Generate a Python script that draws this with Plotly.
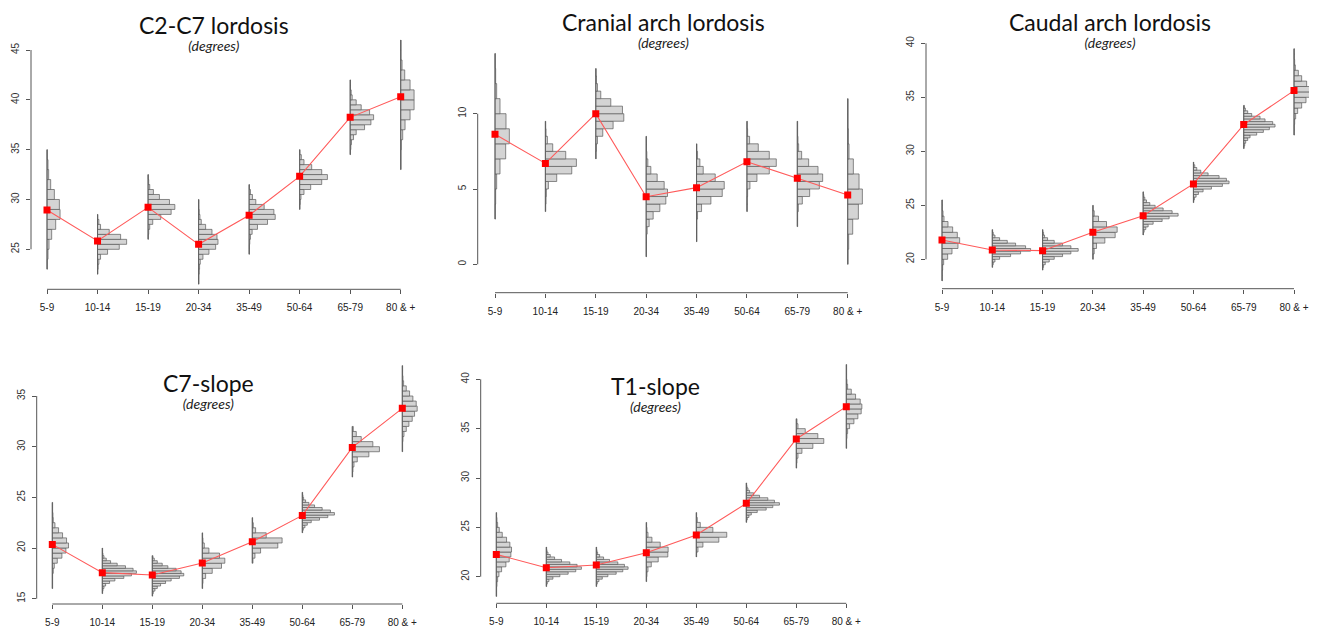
import plotly.graph_objects as go

# The page body has an 8px default margin, so the figure is sized to the visible area
OFF = 8
W, H = 1317 - OFF, 630 - OFF

ages = ["5-9", "10-14", "15-19", "20-34", "35-49", "50-64", "65-79", "80 & +"]

# ---------------- C2-C7 lordosis ----------------
c2c7_mean = [28.95, 25.84, 29.21, 25.5, 28.41, 32.32, 38.24, 40.32]
c2c7_bin_start = [23, 22.5, 26, 21.5, 24.5, 29, 34.5, 33]
c2c7_bin_width = [1, 0.5, 0.5, 0.5, 0.5, 0.5, 0.5, 1]
c2c7_freq = [
    [1, 3, 6, 14, 26, 39, 37, 22, 11, 5, 3, 1],
    [1, 2, 4, 9, 30, 65, 87, 69, 35, 9, 4, 1],
    [1, 2, 5, 14, 38, 69, 80, 64, 34, 16, 5, 2, 1],
    [1, 1, 2, 3, 5, 13, 31, 51, 58, 55, 40, 21, 8, 4, 2, 1, 1],
    [1, 1, 2, 4, 9, 25, 55, 78, 74, 45, 20, 10, 4, 1],
    [1, 2, 4, 13, 33, 66, 83, 66, 36, 13, 5, 1],
    [1, 2, 4, 10, 18, 43, 62, 70, 58, 33, 18, 6, 3, 1, 1],
    [1, 1, 2, 6, 13, 28, 40, 40, 28, 12, 4, 1, 1],
]

# ---------------- Cranial arch lordosis ----------------
cranial_mean = [8.63, 6.70, 10.0, 4.49, 5.09, 6.81, 5.71, 4.60]
cranial_bin_start = [3, 3.5, 7, 0.5, 1.5, 3.5, 2.5, 0]
cranial_bin_width = [1, 0.5, 0.5, 0.5, 0.5, 0.5, 0.5, 1]
cranial_freq = [
    [1, 2, 5, 15, 32, 43, 33, 15, 5, 2, 1],
    [1, 2, 3, 9, 34, 79, 93, 61, 22, 6, 2, 1],
    [1, 2, 5, 21, 52, 84, 80, 45, 15, 5, 2, 1],
    [1, 1, 1, 3, 9, 21, 41, 59, 64, 54, 33, 14, 5, 2, 1, 1],
    [1, 1, 1, 3, 15, 43, 77, 83, 56, 20, 10, 3, 1],
    [1, 1, 2, 9, 30, 67, 88, 67, 34, 8, 2, 1],
    [1, 1, 3, 15, 37, 66, 76, 62, 34, 13, 4, 2, 1, 1],
    [1, 3, 15, 32, 44, 34, 17, 4, 2, 1, 1],
]

# ---------------- Caudal arch lordosis ----------------
caudal_mean = [21.79, 20.86, 20.80, 22.5, 24.04, 26.98, 32.47, 35.62]
caudal_bin_start = [18, 19.25, 19, 20, 22.25, 25.25, 30.25, 31.5]
caudal_bin_width = [0.5, 0.25, 0.25, 0.5, 0.25, 0.25, 0.25, 0.5]
caudal_freq = [
    [1, 1, 2, 5, 17, 30, 48, 53, 46, 32, 18, 6, 3, 1, 1],
    [1, 3, 8, 22, 55, 85, 115, 100, 70, 45, 22, 8, 3, 1],
    [1, 3, 8, 20, 35, 60, 85, 107, 85, 60, 35, 15, 6, 3, 1],
    [1, 4, 11, 36, 67, 73, 41, 17, 4, 1],
    [1, 3, 8, 15, 30, 57, 78, 105, 87, 60, 36, 20, 10, 5, 2, 1],
    [1, 3, 8, 15, 29, 54, 87, 107, 99, 77, 44, 22, 10, 4, 1],
    [1, 3, 6, 12, 19, 39, 59, 77, 94, 87, 64, 49, 24, 12, 5, 2],
    [1, 1, 2, 5, 11, 23, 36, 48, 53, 38, 23, 13, 4, 2, 1, 1],
]

# ---------------- C7-slope ----------------
c7_mean = [20.36, 17.57, 17.34, 18.52, 20.62, 23.22, 29.93, 33.78]
c7_bin_start = [16, 15.5, 15.25, 16, 18.5, 21.5, 27, 29.5]
c7_bin_width = [0.5, 0.25, 0.25, 0.5, 0.5, 0.25, 0.5, 0.5]
c7_freq = [
    [1, 1, 1, 3, 6, 15, 29, 41, 49, 43, 31, 19, 8, 3, 2, 1, 1],
    [1, 2, 5, 10, 22, 38, 65, 88, 103, 93, 70, 45, 25, 12, 5, 2, 1, 1],
    [1, 3, 8, 15, 25, 40, 57, 82, 95, 87, 72, 47, 30, 15, 6, 2],
    [1, 2, 10, 30, 58, 68, 52, 20, 6, 2, 1],
    [2, 8, 25, 77, 90, 42, 10, 3, 1],
    [1, 3, 8, 15, 27, 52, 77, 97, 85, 60, 37, 20, 10, 4, 2, 1],
    [1, 2, 5, 15, 50, 82, 62, 27, 12, 3],
    [1, 1, 2, 5, 12, 20, 30, 37, 45, 42, 32, 22, 12, 4, 2, 1, 1],
]

# ---------------- T1-slope ----------------
t1_mean = [22.26, 20.91, 21.18, 22.43, 24.22, 27.43, 33.95, 37.23]
t1_bin_start = [18, 19, 19, 19.5, 22, 25.5, 31, 33]
t1_bin_width = [0.5, 0.25, 0.25, 0.5, 0.5, 0.25, 0.5, 0.5]
t1_freq = [
    [1, 1, 2, 4, 8, 16, 29, 39, 44, 46, 41, 31, 18, 9, 4, 2, 1],
    [1, 3, 8, 20, 41, 66, 89, 106, 93, 71, 46, 25, 12, 5, 2, 1],
    [1, 3, 8, 18, 35, 60, 80, 96, 85, 65, 40, 22, 10, 4, 2, 1],
    [1, 2, 5, 15, 36, 65, 66, 42, 17, 5, 2, 1],
    [1, 5, 20, 68, 92, 50, 12, 3, 1],
    [1, 3, 8, 15, 33, 60, 80, 100, 85, 65, 40, 22, 10, 5, 2, 1],
    [1, 2, 5, 17, 50, 83, 65, 27, 5, 2],
    [1, 1, 2, 4, 10, 23, 35, 45, 47, 42, 28, 15, 4, 2, 1, 1, 1],
]

titles = ["C2-C7 lordosis", "Cranial arch lordosis", "Caudal arch lordosis", "C7-slope", "T1-slope"]
subtitle = "(degrees)"
y_ticks = [[25, 30, 35, 40, 45], [0, 5, 10], [20, 25, 30, 35, 40], [15, 20, 25, 30, 35], [20, 25, 30, 35, 40]]

data_sets = [
    (c2c7_mean, c2c7_bin_start, c2c7_bin_width, c2c7_freq),
    (cranial_mean, cranial_bin_start, cranial_bin_width, cranial_freq),
    (caudal_mean, caudal_bin_start, caudal_bin_width, caudal_freq),
    (c7_mean, c7_bin_start, c7_bin_width, c7_freq),
    (t1_mean, t1_bin_start, t1_bin_width, t1_freq),
]

# layout geometry in window pixels: domain (left, right, top, bottom), x calibration (px of cat 0, cat 7),
# y calibration ((low tick value, px), (high tick value, px)), title block centre
geom = [
    dict(dom=(31, 440, 30, 289.3), xc=(47.0, 400.7), yc=((25, 249.3), (45, 50.0)), t=(214, 32)),
    dict(dom=(477.7, 880, 30, 292.7), xc=(495.0, 847.7), yc=((0, 264.3), (10, 113.7)), t=(663, 30)),
    dict(dom=(926, 1317, 30, 288.7), xc=(942.0, 1294.0), yc=((20, 259.3), (40, 43.3)), t=(1110, 30)),
    dict(dom=(36.7, 440, 330, 604), xc=(52.3, 402.3), yc=((15, 598.7), (35, 396.0)), t=(208, 391)),
    dict(dom=(480.7, 880, 330, 603.3), xc=(496.3, 846.3), yc=((20, 576.7), (40, 379.3)), t=(655, 393)),
]

SCALE = 1 / 151.0
FILL = "#d4d4d4"
EDGE = "#5a5a5a"
AXC = "#555555"


def fx(p):
    return (p - OFF) / W


def fy(p):
    return 1 - (p - OFF) / H


fig = go.Figure()
layout = dict(
    width=W, height=H, margin=dict(l=0, r=0, t=0, b=0),
    paper_bgcolor="white", plot_bgcolor="white",
    barmode="overlay", showlegend=False,
)
shapes = []
annotations = []

for k in range(5):
    means, starts, widths, freqs = data_sets[k]
    g = geom[k]
    xs = "x" if k == 0 else f"x{k+1}"
    ys = "y" if k == 0 else f"y{k+1}"
    xname = "xaxis" if k == 0 else f"xaxis{k+1}"
    yname = "yaxis" if k == 0 else f"yaxis{k+1}"

    # histograms
    for gi in range(8):
        f = freqs[gi]
        n = len(f)
        centers = [starts[gi] + widths[gi] * (j + 0.5) for j in range(n)]
        fig.add_trace(go.Bar(
            orientation="h", y=centers, x=[v * SCALE for v in f], base=[gi] * n,
            width=[widths[gi]] * n,
            marker=dict(color=FILL, line=dict(color=EDGE, width=0.7)),
            xaxis=xs, yaxis=ys, hoverinfo="skip",
        ))
        lo = starts[gi]
        hi = starts[gi] + widths[gi] * n
        fig.add_trace(go.Scatter(
            x=[gi, gi], y=[lo, hi], mode="lines",
            line=dict(color="#5c5c5c", width=0.9), xaxis=xs, yaxis=ys, hoverinfo="skip",
        ))
    # mean line
    fig.add_trace(go.Scatter(
        x=list(range(8)), y=means, mode="lines+markers",
        line=dict(color="#ff5a5a", width=1.1),
        marker=dict(symbol="square", size=7, color="#ff0000"),
        xaxis=xs, yaxis=ys, hoverinfo="skip",
    ))

    L, R, T, B = g["dom"]
    px0, px7 = g["xc"]
    ppu = (px7 - px0) / 7
    xr = [(L - px0) / ppu, 7 + (R - px7) / ppu]
    (v_lo, p_lo), (v_hi, p_hi) = g["yc"]
    ppv = (p_lo - p_hi) / (v_hi - v_lo)
    yr = [v_lo - (B - p_lo) / ppv, v_lo + (p_lo - T) / ppv]

    layout[xname] = dict(
        domain=[fx(L), min(1.0, fx(R))], range=xr, anchor=ys,
        showgrid=False, zeroline=False, showline=False,
        tickmode="array", tickvals=list(range(8)), ticktext=ages,
        ticks="outside", ticklen=4, tickcolor=AXC, tickwidth=1,
        tickfont=dict(family="Liberation Sans, Arial, sans-serif", size=10, color="#222"),
        ticklabelstandoff=5,
    )
    layout[yname] = dict(
        domain=[fy(B), fy(T)], range=yr, anchor=xs,
        showgrid=False, zeroline=False, showline=False,
        tickmode="array", tickvals=y_ticks[k], tickangle=-90,
        ticks="outside", ticklen=4, tickcolor=AXC, tickwidth=1,
        tickfont=dict(family="Liberation Sans, Arial, sans-serif", size=10, color="#333"),
        ticklabelstandoff=3,
    )
    # R-style axis lines spanning the tick range only
    shapes.append(dict(type="line", xref=f"{xs} domain", yref=ys, x0=0, x1=0,
                       y0=y_ticks[k][0], y1=y_ticks[k][-1], line=dict(color=AXC, width=1)))
    shapes.append(dict(type="line", xref=xs, yref=f"{ys} domain", x0=0, x1=7,
                       y0=0, y1=0, line=dict(color=AXC, width=1)))

    tx, ty = g["t"]
    block = (f"<span style='font-size:23px;color:#111'>{titles[k]}</span><br>"
             f"<i><span style='font-size:14px'>{subtitle}</span></i>")
    annotations.append(dict(text=block, x=fx(tx), y=fy(ty), xref="paper", yref="paper",
                            xanchor="center", yanchor="middle", align="center", showarrow=False,
                            font=dict(family="Lato, Open Sans, sans-serif", size=13, color="#222")))

layout["shapes"] = shapes
layout["annotations"] = annotations
fig.update_layout(**layout)
fig.write_html("out.html")
